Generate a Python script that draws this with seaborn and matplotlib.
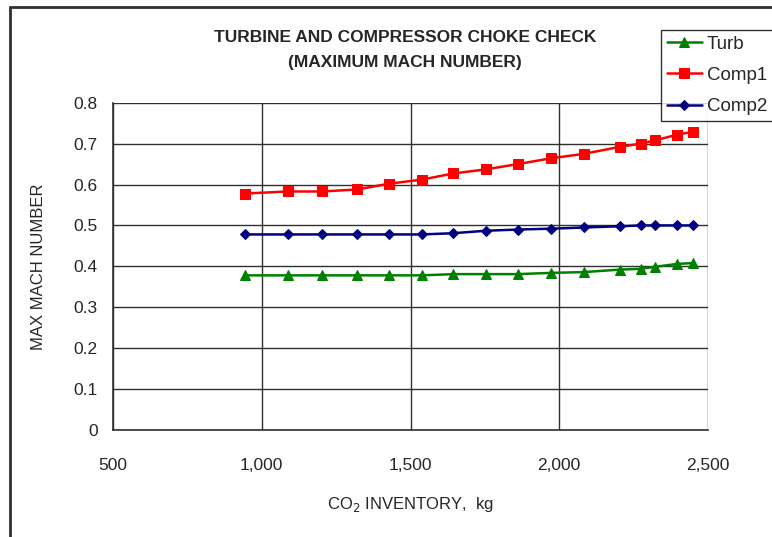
import matplotlib
matplotlib.use("Agg")
import matplotlib.pyplot as plt
import seaborn as sns
import numpy as np
from matplotlib.lines import Line2D
from matplotlib.ticker import FuncFormatter

# values
co2_inventory = [945, 1087, 1204, 1321, 1428, 1538, 1644, 1753, 1861, 1971,
                 2083, 2203, 2274, 2323, 2397, 2451]
turb = [0.378, 0.378, 0.378, 0.378, 0.378, 0.378, 0.381, 0.381, 0.381, 0.384,
        0.386, 0.392, 0.394, 0.399, 0.406, 0.408]
comp1 = [0.578, 0.583, 0.583, 0.588, 0.602, 0.612, 0.627, 0.637, 0.650, 0.664,
         0.675, 0.692, 0.700, 0.708, 0.722, 0.729]
comp2 = [0.478, 0.478, 0.478, 0.478, 0.478, 0.478, 0.481, 0.487, 0.490, 0.492,
         0.495, 0.498, 0.500, 0.500, 0.500, 0.500]

x_ticks = [500, 1000, 1500, 2000, 2500]
y_ticks = [0, 0.1, 0.2, 0.3, 0.4, 0.5, 0.6, 0.7, 0.8]

sns.set_style("white")
plt.rcParams['font.family'] = ['Liberation Sans', 'DejaVu Sans']

fig = plt.figure(figsize=(7.72, 5.37), dpi=100)
ax = fig.add_axes([113 / 772, 107 / 537, 595 / 772, 327.3 / 537])

# series: label, values, colour, marker, marker size
series = [
    ("Turb", turb, "#008000", "^", 7),
    ("Comp1", comp1, "#FF0000", "s", 6.5),
    ("Comp2", comp2, "#000080", "D", 5),
]
for name, vals, col, mk, ms in series:
    sns.lineplot(x=co2_inventory, y=vals, ax=ax, color=col, marker=mk,
                 markersize=ms, markeredgecolor=col, linewidth=1.8,
                 label=name, legend=False)

ax.set_xlim(500, 2500)
ax.set_ylim(0, 0.8)
ax.set_xticks(x_ticks)
ax.set_yticks(y_ticks)
ax.xaxis.set_major_formatter(FuncFormatter(lambda v, p: f"{int(v):,}"))
ax.yaxis.set_major_formatter(FuncFormatter(lambda v, p: "0" if v == 0 else f"{v:.1f}"))

ax.grid(True, color="#303030", linewidth=1)
ax.set_axisbelow(True)
for s in ["top", "right"]:
    ax.spines[s].set_visible(False)
for s in ["left", "bottom"]:
    ax.spines[s].set_color("#303030")
    ax.spines[s].set_linewidth(1.2)

ax.tick_params(axis="both", direction="out", length=6, width=1,
               color="#303030", labelsize=12.5, pad=5)
ax.tick_params(axis="x", pad=14)

ax.set_xlabel("CO$_2$ INVENTORY,  kg", fontsize=12, labelpad=16)
ax.set_ylabel("MAX MACH NUMBER", fontsize=12, labelpad=20)

fig.text(405 / 772, 1 - 37 / 537, "TURBINE AND COMPRESSOR CHOKE CHECK",
         ha="center", va="center", fontsize=12.5, fontweight="bold")
fig.text(405 / 772, 1 - 63 / 537, "(MAXIMUM MACH NUMBER)",
         ha="center", va="center", fontsize=12.5, fontweight="bold")

handles, labels = ax.get_legend_handles_labels()
leg = fig.legend(handles, labels, loc="upper left",
                 bbox_to_anchor=(661 / 772, 1 - 30 / 537),
                 fontsize=13.5, frameon=True, fancybox=False,
                 edgecolor="black", handlelength=1.9, handletextpad=0.25,
                 labelspacing=0.75, borderpad=0.3, borderaxespad=0)
leg.get_frame().set_linewidth(1)

# outer frame (top and left edges)
fig.add_artist(Line2D([10 / 772, 10 / 772], [0, 1 - 7 / 537],
                      transform=fig.transFigure, color="#303030", linewidth=2))
fig.add_artist(Line2D([10 / 772, 1], [1 - 7 / 537, 1 - 7 / 537],
                      transform=fig.transFigure, color="#303030", linewidth=2))

fig.savefig("out.png", dpi=100)
